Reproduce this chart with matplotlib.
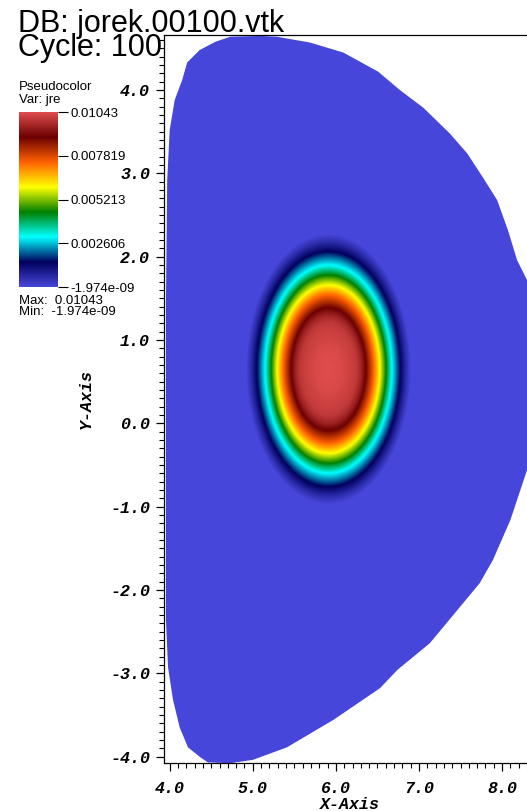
import numpy as np
import matplotlib
matplotlib.use('Agg')
import matplotlib.pyplot as plt
from matplotlib.colors import LinearSegmentedColormap
from matplotlib.patches import Polygon
from matplotlib.ticker import MultipleLocator, FormatStrFormatter

plt.rcParams['axes.unicode_minus'] = False

# wall contour of the computational domain (R, Z)
wall_r = [5.09, 5.29, 5.69, 6.09, 6.51, 6.77, 7.05, 7.37, 7.58, 7.77, 7.94, 8.07,
          8.18, 8.30, 8.38, 8.41, 8.38, 8.30, 8.10, 7.89, 7.73, 7.53, 7.13, 6.74,
          6.53, 5.97, 5.41, 5.00, 4.73, 4.46, 4.37, 4.22, 4.12, 4.04, 3.98, 3.955,
          3.955, 3.955, 3.97, 4.00, 4.06, 4.15, 4.21, 4.36, 4.55, 4.73]
wall_z = [4.65, 4.64, 4.57, 4.45, 4.22, 4.00, 3.79, 3.48, 3.24, 2.95, 2.68, 2.32,
          1.96, 1.72, 1.10, 0.50, -0.10, -0.56, -1.16, -1.64, -1.92, -2.16, -2.64, -2.96,
          -3.18, -3.56, -3.89, -4.04, -4.08, -4.07, -4.01, -3.89, -3.65, -3.32, -2.93, -2.36,
          -0.32, 1.48, 2.92, 3.52, 3.88, 4.12, 4.33, 4.48, 4.58, 4.64]

# runaway current density jre vs normalised elliptic radius
jre_center = (5.911, 0.652)
jre_axes = (0.764, 1.249)
jre_rho = [0.0, 0.2, 0.4, 0.45, 0.52, 0.59, 0.71, 0.81, 0.905, 1.0, 1.13, 1.22, 1.3, 1.5]
jre_val = [0.01043, 0.01035, 0.01010, 0.01000, 0.00960, 0.00894, 0.00745, 0.00596,
           0.00447, 0.00298, 0.00149, 0.00060, 0.0, 0.0]

jre_min = -1.974e-09
jre_max = 0.01043
cbar_ticks = [jre_min, 0.002606, 0.005213, 0.007819, 0.01043]
cbar_labels = ['-1.974e-09', '0.002606', '0.005213', '0.007819', '0.01043']

# hot desaturated
hot_desat = LinearSegmentedColormap.from_list('hot_desaturated', [
    (0.278, 0.278, 0.859), (0.0, 0.0, 0.361), (0.0, 1.0, 1.0), (0.0, 0.502, 0.0),
    (1.0, 1.0, 0.0), (1.0, 0.380, 0.0), (0.420, 0.0, 0.0), (0.878, 0.302, 0.302)], N=512)

W, H = 527, 811
fig = plt.figure(figsize=(W / 100, H / 100), dpi=100)

ax = fig.add_axes([164 / W, 1 - 762.7 / H, 372 / W, 727.7 / H])
xlim = (3.9314, 8.408)
ylim = (-4.074, 4.661)

R, Z = np.meshgrid(np.linspace(xlim[0], xlim[1], 900), np.linspace(ylim[0], ylim[1], 1500))
rho = np.sqrt(((R - jre_center[0]) / jre_axes[0])**2 + ((Z - jre_center[1]) / jre_axes[1])**2)
jre = np.interp(rho, jre_rho, jre_val)

im = ax.imshow(jre, extent=[xlim[0], xlim[1], ylim[0], ylim[1]], origin='lower',
               cmap=hot_desat, vmin=jre_min, vmax=jre_max, interpolation='bilinear', aspect='auto')
wall = Polygon(np.column_stack([wall_r, wall_z]), closed=True, facecolor='none', edgecolor='none',
               transform=ax.transData)
ax.add_patch(wall)
im.set_clip_path(wall)

ax.set_xlim(*xlim)
ax.set_ylim(*ylim)
ax.spines['right'].set_visible(False)
for s in ['left', 'bottom', 'top']:
    ax.spines[s].set_linewidth(0.9)

tick_font = dict(family='Liberation Mono', weight='bold', style='italic', size=12)
ax.xaxis.set_major_locator(MultipleLocator(1.0))
ax.yaxis.set_major_locator(MultipleLocator(1.0))
ax.xaxis.set_minor_locator(MultipleLocator(0.1))
ax.yaxis.set_minor_locator(MultipleLocator(0.1))
ax.xaxis.set_major_formatter(FormatStrFormatter('%.1f'))
ax.yaxis.set_major_formatter(FormatStrFormatter('%.1f'))
ax.tick_params(which='major', direction='out', length=6, width=0.9, top=False, right=False)
ax.tick_params(which='minor', direction='out', length=3.6, width=0.8, top=False, right=False)
ax.tick_params(axis='x', which='major', pad=7)
ax.tick_params(axis='y', which='major', pad=4)
for lab in ax.get_xticklabels() + ax.get_yticklabels():
    lab.set_fontproperties(matplotlib.font_manager.FontProperties(**tick_font))

ax.set_xlabel('X-Axis', fontdict=tick_font)
ax.set_ylabel('Y-Axis', fontdict=tick_font)
ax.xaxis.set_label_coords(0.5, -0.047)
ax.xaxis.label.set_va('top')
ax.yaxis.set_label_coords(-0.188, 0.5)

# header text
sans = 'Liberation Sans'
fig.text(18 / W, 1 - 32 / H, 'DB: jorek.00100.vtk', family=sans, size=22, ha='left', va='baseline')
fig.text(18 / W, 1 - 56 / H, 'Cycle: 100', family=sans, size=22, ha='left', va='baseline')

# legend
fig.text(19 / W, 1 - 90 / H, 'Pseudocolor', family=sans, size=9.5, va='baseline')
fig.text(19 / W, 1 - 103 / H, 'Var: jre', family=sans, size=9.5, va='baseline')

cax = fig.add_axes([19 / W, 1 - 287 / H, 39 / W, 175 / H])
cb = fig.colorbar(im, cax=cax, orientation='vertical')
cb.outline.set_visible(False)
cb.set_ticks(cbar_ticks)
cb.set_ticklabels(cbar_labels)
cax.tick_params(length=7.2, width=0.8, pad=1.5, labelsize=9.5)
for lab in cax.get_yticklabels():
    lab.set_family(sans)

fig.text(19 / W, 1 - 304 / H, 'Max:  0.01043', family=sans, size=9.5, va='baseline')
fig.text(19 / W, 1 - 315 / H, 'Min:  -1.974e-09', family=sans, size=9.5, va='baseline')

fig.savefig('out.png', dpi=100)
